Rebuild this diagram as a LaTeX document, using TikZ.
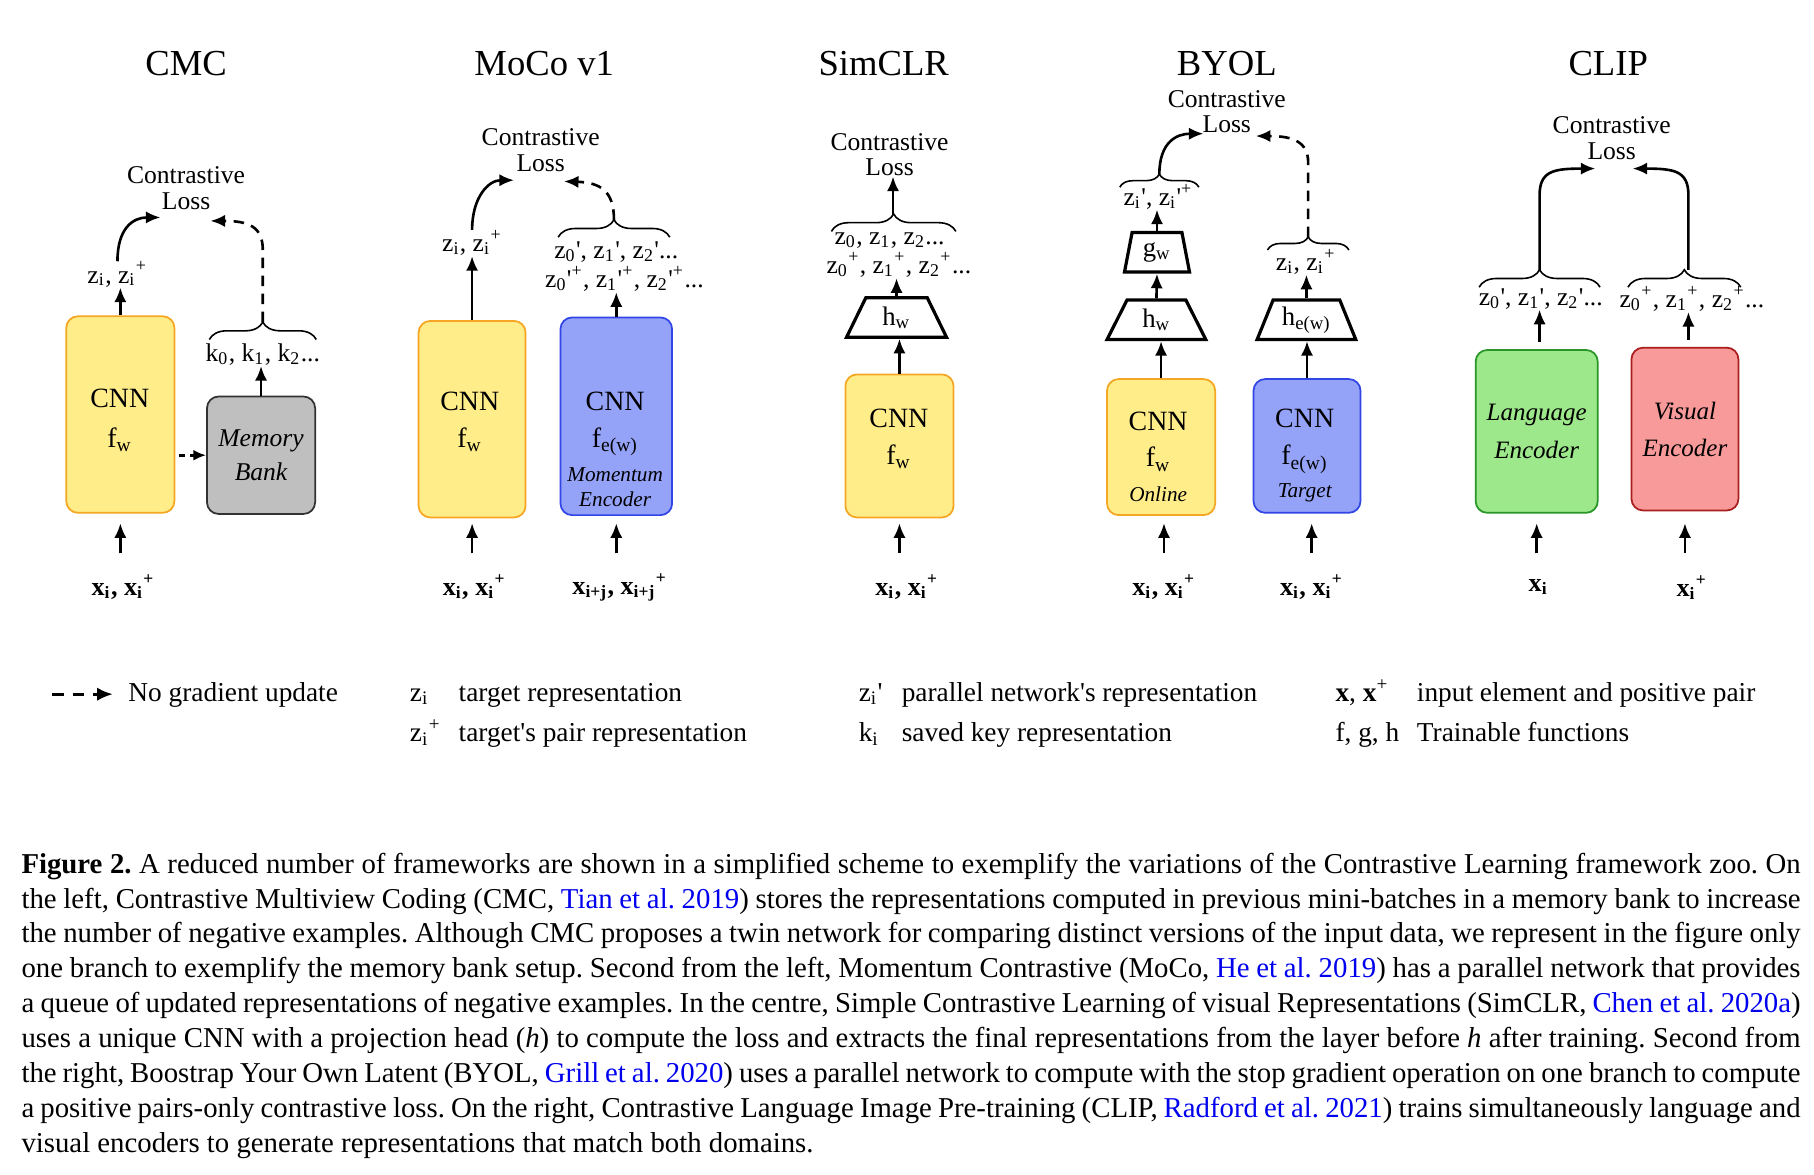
\documentclass[tikz,border=0pt]{standalone}
\usepackage{fontspec}
\setmainfont{Liberation Serif}[Ligatures=TeXOff]
\usetikzlibrary{arrows.meta,shapes.geometric,decorations.pathreplacing}
\definecolor{cnnyel}{RGB}{255,237,138}
\definecolor{cnnora}{RGB}{245,166,35}
\definecolor{cnnblu}{RGB}{148,162,248}
\definecolor{cnnblud}{RGB}{50,70,230}
\definecolor{membg}{RGB}{191,191,191}
\definecolor{memd}{RGB}{50,50,50}
\definecolor{langg}{RGB}{157,232,138}
\definecolor{langd}{RGB}{40,150,40}
\definecolor{visr}{RGB}{249,154,154}
\definecolor{visd}{RGB}{170,30,30}
\definecolor{lnkblue}{RGB}{0,0,238}
\newcommand{\sbs}[1]{\textsubscript{#1}}
\newcommand{\sps}[1]{\textsuperscript{#1}}
\newcommand{\lnk}[1]{\textcolor{lnkblue}{#1}}
\frenchspacing
\begin{document}
\begin{tikzpicture}[x=0.4pt,y=-0.4pt,
  lbl/.style={font=\fontsize{8.8}{8.8}\selectfont, inner sep=0pt, align=center},
  ttl/.style={font=\fontsize{12.6}{14}\selectfont, inner sep=0pt},
  btx/.style={font=\fontsize{9.6}{10}\selectfont, inner sep=0pt},
  itx/.style={font=\fontsize{7.3}{8}\selectfont\itshape, inner sep=0pt},
  enc/.style={font=\fontsize{8.6}{12.8}\selectfont\itshape, align=center},
  xlb/.style={font=\fontsize{9}{10}\selectfont\bfseries, inner sep=0pt},
  box/.style={rounded corners=4pt, line width=0.6pt, inner sep=0pt},
  ybox/.style={box, fill=cnnyel, draw=cnnora},
  bbox/.style={box, fill=cnnblu, draw=cnnblud},
  gbox/.style={box, fill=membg, draw=memd},
  lbox/.style={box, fill=langg, draw=langd},
  visbox/.style={box, fill=visr, draw=visd},
  arr/.style={-{Latex[length=5pt,width=4.2pt]}, line width=0.9pt},
  darr/.style={arr, dash pattern=on 3.6pt off 2.6pt},
  brc/.style={decorate, decoration={brace, amplitude=#1}, line width=0.55pt},
  brc/.default=6pt,
  trap/.style={trapezium, trapezium stretches=true, draw, line width=1.1pt, inner sep=0pt, font=\fontsize{9.2}{10}\selectfont},
  lg/.style={font=\fontsize{9.4}{10}\selectfont, inner sep=0pt, anchor=base west}
]
\useasboundingbox (0,0) rectangle (1560,1010);
\fill[white] (0,0) rectangle (1560,1010);

% ---------------- titles
\node[ttl] (t1) at (160,55) {CMC};
\node[ttl] (t2) at (468,55) {MoCo v1};
\node[ttl] (t3) at (760,55) {SimCLR};
\node[ttl] (t4) at (1055,55) {BYOL};
\node[ttl] (t5) at (1383,55) {CLIP};

% ---------------- CMC
\node[lbl] (loss1) at (160,162) {Contrastive\\Loss};
\node[ybox, minimum width=37.2pt, minimum height=67.6pt] (c1) at (103.5,356.5) {};
\node[btx] (c1a) at (103,343) {CNN};
\node[btx] (c1b) at (103,378) {f\sbs{w}};
\node[gbox, enc, minimum width=37.2pt, minimum height=40.4pt, font=\fontsize{8.8}{12}\selectfont\itshape] (m1) at (224.5,391.5) {Memory\\Bank};
\draw[arr, dash pattern=on 2.2pt off 1.8pt, -{Latex[length=4.4pt,width=3.8pt]}] ([xshift=1.2pt]c1.east |- m1.west) -- (m1.west);
\node[lbl] (z1) at (101,236) {z\sbs{i}, z\sbs{i}\sps{+}};
\draw[arr] (c1.north) -- (c1.north |- z1.south);
\coordinate (e1a) at (138,187);
\draw[arr] (z1.north) .. controls +(0,-28) and +(-24,0) .. (e1a);
\node[lbl] (k1) at (226,305) {k\sbs{0}, k\sbs{1}, k\sbs{2}...};
\draw[arr] (m1.north) -- (m1.north |- k1.south);
\coordinate (b1l) at (180,292);
\coordinate (b1r) at (272,292);
\draw[brc] (b1l) -- (b1r);
\coordinate (b1t) at (226,277);
\coordinate (e1b) at (181,190);
\draw[darr] (b1t) -- (226,215) .. controls (226,195) and (214,190) .. (e1b);
\node[xlb] (x1) at (106,505) {x\sbs{i}, x\sbs{i}\sps{+}};
\draw[arr] (c1.south |- 0,476) -- (c1.south |- 0,450);

% ---------------- MoCo
\node[lbl] (loss2) at (465,129) {Contrastive\\Loss};
\node[ybox, minimum width=36.8pt, minimum height=67.6pt] (c2) at (406,360.5) {};
\node[btx] (c2a) at (404,345) {CNN};
\node[btx] (c2b) at (404,378) {f\sbs{w}};
\node[bbox, minimum width=38.4pt, minimum height=68pt] (e2) at (530,358) {};
\node[btx] (e2a) at (529,345) {CNN};
\node[btx] (e2b) at (529,380) {f\sbs{e(w)}};
\node[itx] (e2c) at (529,408) {Momentum};
\node[itx] (e2d) at (529,429) {Encoder};
\node[lbl] (z2) at (406,209) {z\sbs{i}, z\sbs{i}\sps{+}};
\draw[arr] (c2.north) -- (c2.north |- z2.south);
\coordinate (e2x) at (442,155);
\draw[arr] (z2.north) .. controls +(0,-28) and +(-22,0) .. (e2x);
\node[lbl] (q2a) at (530,217) {z\sbs{0}', z\sbs{1}', z\sbs{2}'...};
\node[lbl] (q2b) at (537,240) {z\sbs{0}'\sps{+}, z\sbs{1}'\sps{+}, z\sbs{2}'\sps{+}...};
\draw[arr] (e2.north) -- (e2.north |- q2b.south);
\coordinate (b2l) at (480,204);
\coordinate (b2r) at (576,204);
\draw[brc] (b2l) -- (b2r);
\coordinate (b2t) at (528,189);
\coordinate (e2y) at (485,156);
\draw[darr] (b2t) .. controls (528,164) and (516,157) .. (e2y);
\node[xlb] (x2a) at (408,505) {x\sbs{i}, x\sbs{i}\sps{+}};
\node[xlb] (x2b) at (533,505) {x\sbs{i+j}, x\sbs{i+j}\sps{+}};
\draw[arr] (c2.south |- 0,476) -- (c2.south |- 0,450);
\draw[arr] (e2.south |- 0,476) -- (e2.south |- 0,450);

% ---------------- SimCLR
\node[lbl] (loss3) at (765,133) {Contrastive\\Loss};
\node[ybox, minimum width=37.2pt, minimum height=49.2pt] (c3) at (773.5,383.5) {};
\node[btx] (c3a) at (773,360) {CNN};
\node[btx] (c3b) at (773,393) {f\sbs{w}};
\node[trap, trapezium angle=67.6, minimum width=34.4pt, minimum height=13.6pt] (h3) at (771,273) {h\sbs{w}};
\draw[arr] (c3.north) -- (c3.north |- h3.south);
\node[lbl] (s3a) at (765,207) {z\sbs{0}, z\sbs{1}, z\sbs{2}...};
\node[lbl] (s3b) at (773,228) {z\sbs{0}\sps{+}, z\sbs{1}\sps{+}, z\sbs{2}\sps{+}...};
\draw[arr] (h3.north) -- (h3.north |- s3b.south);
\coordinate (b3l) at (715,199);
\coordinate (b3r) at (822,199);
\draw[brc] (b3l) -- (b3r);
\coordinate (b3t) at (768,185);
\draw[arr] (b3t) -- (loss3.south -| b3t);
\node[xlb] (x3) at (780,505) {x\sbs{i}, x\sbs{i}\sps{+}};
\draw[arr] (c3.south |- 0,476) -- (c3.south |- 0,450);

% ---------------- BYOL
\node[lbl] (loss4) at (1055,96) {Contrastive\\Loss};
\node[ybox, minimum width=37.2pt, minimum height=46.8pt] (c4) at (998.5,384.5) {};
\node[btx] (c4a) at (996,362) {CNN};
\node[btx] (c4b) at (996,395) {f\sbs{w}};
\node[itx] (c4c) at (996,425) {Online};
\node[bbox, minimum width=36.8pt, minimum height=46pt] (e4) at (1124,383.5) {};
\node[btx] (e4a) at (1122,360) {CNN};
\node[btx] (e4b) at (1122,395) {f\sbs{e(w)}};
\node[itx] (e4c) at (1122,424) {Target};
\node[trap, trapezium angle=66, minimum width=34pt, minimum height=13.6pt] (h4) at (994.5,275) {h\sbs{w}};
\node[trap, trapezium angle=77.5, minimum width=22.4pt, minimum height=13.6pt] (g4) at (995,217) {g\sbs{w}};
\node[trap, trapezium angle=66, minimum width=34pt, minimum height=13.6pt] (he4) at (1123.5,275) {h\sbs{e(w)}};
\draw[arr] (c4.north) -- (c4.north |- h4.south);
\draw[arr] (h4.north) -- (g4.south);
\node[lbl] (zz4) at (996,169) {z\sbs{i}', z\sbs{i}'\sps{+}};
\draw[arr] (g4.north) -- (g4.north |- zz4.south);
\coordinate (b4l) at (963,161);
\coordinate (b4r) at (1031,161);
\draw[brc=4.5pt] (b4l) -- (b4r);
\coordinate (b4t) at (997,150);
\coordinate (e4x) at (1035,115);
\draw[arr] (b4t) .. controls (997,122) and (1012,115) .. (e4x);
\draw[arr] (e4.north) -- (e4.north |- he4.south);
\node[lbl] (zz4b) at (1123,225) {z\sbs{i}, z\sbs{i}\sps{+}};
\draw[arr] (he4.north) -- (he4.north |- zz4b.south);
\coordinate (b4bl) at (1090,215);
\coordinate (b4br) at (1160,215);
\draw[brc=4.5pt] (b4bl) -- (b4br);
\coordinate (b4bt) at (1125,204);
\coordinate (e4y) at (1080,117);
\draw[darr] (b4bt) -- (1125,140) .. controls (1125,122) and (1112,117) .. (e4y);
\node[xlb] (x4a) at (1001,505) {x\sbs{i}, x\sbs{i}\sps{+}};
\node[xlb] (x4b) at (1128,505) {x\sbs{i}, x\sbs{i}\sps{+}};
\draw[arr] (x4a.north |- 0,476) -- (x4a.north |- 0,450);
\draw[arr] (x4b.north |- 0,476) -- (x4b.north |- 0,450);

% ---------------- CLIP
\node[lbl] (loss5) at (1386,119) {Contrastive\\Loss};
\node[lbox, enc, minimum width=42pt, minimum height=56pt] (g5) at (1321.5,371) {Language\\Encoder};
\node[visbox, enc, minimum width=36.8pt, minimum height=56pt] (r5) at (1449,369) {Visual\\Encoder};
\node[lbl] (p5a) at (1325,257) {z\sbs{0}', z\sbs{1}', z\sbs{2}'...};
\node[lbl] (p5b) at (1455,257) {z\sbs{0}\sps{+}, z\sbs{1}\sps{+}, z\sbs{2}\sps{+}...};
\coordinate (b5al) at (1272,247);
\coordinate (b5ar) at (1376,247);
\draw[brc] (b5al) -- (b5ar);
\coordinate (b5bl) at (1400,247);
\coordinate (b5br) at (1497,247);
\draw[brc] (b5bl) -- (b5br);
\coordinate (b5at) at (1324,232);
\coordinate (b5bt) at (1452,232);
\draw[arr] ([yshift=2.4pt]g5.north -| b5at) -- (b5at |- p5a.south);
\draw[arr] ([yshift=2.4pt]r5.north -| b5bt) -- (b5bt |- p5b.south);
\coordinate (e5a) at (1372,145);
\coordinate (e5b) at (1404,145);
\draw[arr] (b5at) -- (1324,168) .. controls (1324,147) and (1336,145) .. (e5a);
\draw[arr] (b5bt) -- (1452,168) .. controls (1452,147) and (1440,145) .. (e5b);
\node[xlb] (x5a) at (1323,505) {x\sbs{i}};
\node[xlb] (x5b) at (1455,505) {x\sbs{i}\sps{+}};
\draw[arr] (g5.south |- 0,476) -- (g5.south |- 0,450);
\draw[arr] (r5.south |- 0,476) -- (r5.south |- 0,450);

% ---------------- legend
\coordinate (lg0) at (45,597);
\coordinate (lg1) at (97,597);
\draw[arr, dash pattern=on 4pt off 3pt, -{Latex[length=5.4pt,width=4.6pt]}] (lg0) -- (lg1);
\node[lg] (lga) at (110,603) {No gradient update};
\node[lg] (lgb1) at (352,603) {z\sbs{i}};
\node[lg] (lgb2) at (394,603) {target representation};
\node[lg] (lgc1) at (352,638) {z\sbs{i}\sps{+}};
\node[lg] (lgc2) at (394,638) {target's pair representation};
\node[lg] (lgd1) at (738,603) {z\sbs{i}'};
\node[lg] (lgd2) at (775,603) {parallel network's representation};
\node[lg] (lge1) at (738,638) {k\sbs{i}};
\node[lg] (lge2) at (775,638) {saved key representation};
\node[lg] (lgf1) at (1148,603) {\textbf{x}, \textbf{x}\sps{+}};
\node[lg] (lgf2) at (1218,603) {input element and positive pair};
\node[lg] (lgg1) at (1148,638) {f, g, h};
\node[lg] (lgg2) at (1218,638) {Trainable functions};

% ---------------- caption
\node[anchor=north west, inner sep=0pt] (cap) at (18,733) {\vbox{\hsize=612pt\fontsize{9.9}{12}\selectfont\baselineskip=12pt
\hbox to\hsize{\textbf{Figure 2.} A reduced number of frameworks are shown in a simplified scheme to exemplify the variations of the Contrastive Learning framework zoo. On}
\hbox to\hsize{the left, Contrastive Multiview Coding (CMC, \lnk{Tian et al. 2019}) stores the representations computed in previous mini-batches in a memory bank to increase}
\hbox to\hsize{the number of negative examples. Although CMC proposes a twin network for comparing distinct versions of the input data, we represent in the figure only}
\hbox to\hsize{one branch to exemplify the memory bank setup. Second from the left, Momentum Contrastive (MoCo, \lnk{He et al. 2019}) has a parallel network that provides}
\hbox to\hsize{a queue of updated representations of negative examples. In the centre, Simple Contrastive Learning of visual Representations (SimCLR, \lnk{Chen et al. 2020a})}
\hbox to\hsize{uses a unique CNN with a projection head (\textit{h}) to compute the loss and extracts the final representations from the layer before \textit{h} after training. Second from}
\hbox to\hsize{the right, Boostrap Your Own Latent (BYOL, \lnk{Grill et al. 2020}) uses a parallel network to compute with the stop gradient operation on one branch to compute}
\hbox to\hsize{a positive pairs-only contrastive loss. On the right, Contrastive Language Image Pre-training (CLIP, \lnk{Radford et al. 2021}) trains simultaneously language and}
\hbox{visual encoders to generate representations that match both domains.}}};
\end{tikzpicture}
\end{document}
